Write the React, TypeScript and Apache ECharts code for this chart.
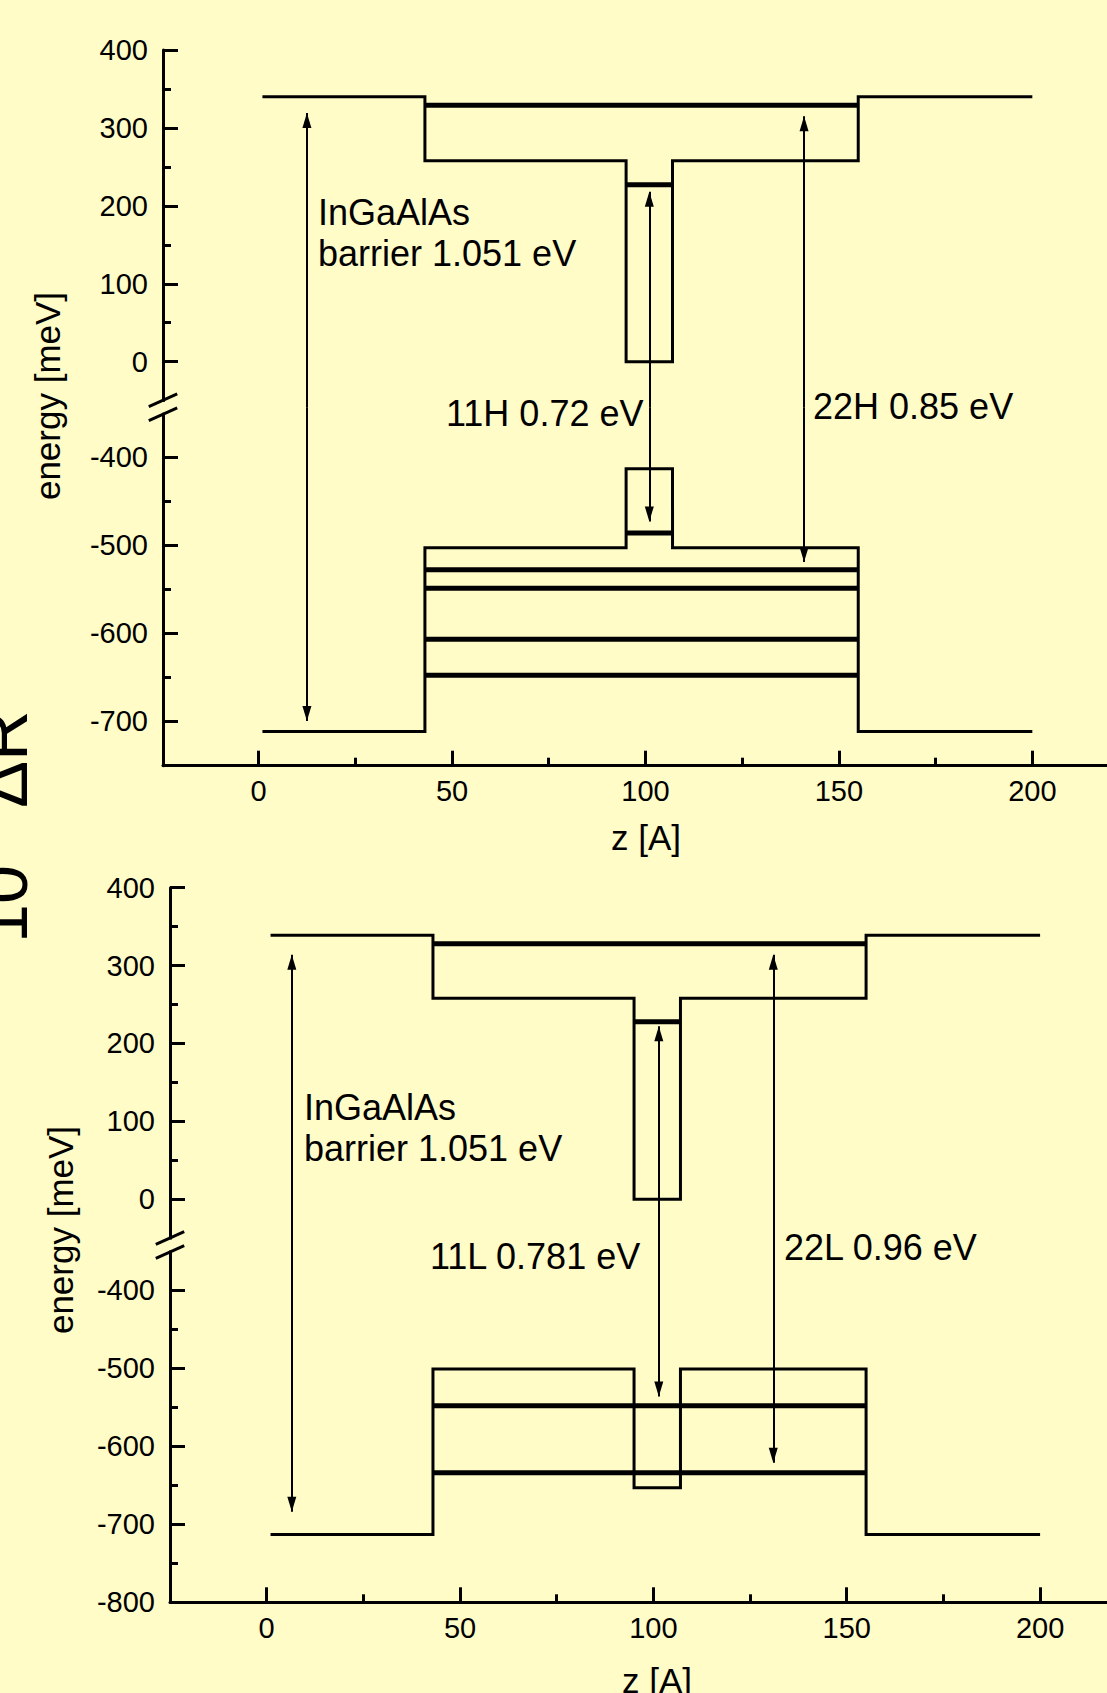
import React, { useEffect, useRef } from 'react';
import * as echarts from 'echarts';

const PAGE_W = 1107;
const PAGE_H = 1693;
const BG = '#FFFCC8';
const FONT = '"Liberation Sans", Arial, Helvetica, sans-serif';

// ---- axis ticks ----
const xMajorTicks = [0, 50, 100, 150, 200];
const xMinorTicks = [25, 75, 125, 175];
const yUpperMajorTicks = [0, 100, 200, 300, 400];
const yUpperMinorTicks = [50, 150, 250, 350];
const yLowerMajorTicksH = [-700, -600, -500, -400];
const yLowerMinorTicksH = [-650, -550, -450];
const yLowerMajorTicksL = [-800, -700, -600, -500, -400];
const yLowerMinorTicksL = [-750, -650, -550, -450];

// ---- band profile positions (z, Angstrom) ----
const profileZ = [1, 43, 43, 95, 95, 107, 107, 155, 155, 200];

// ---- heavy-hole panel (top) ----
const cbEnergyH = [340, 340, 258, 258, 0, 0, 258, 258, 340, 340];
const vbEnergyH = [-712, -712, -503, -503, -413, -413, -503, -503, -712, -712];
const cbLevelEnergyH = [329, 227];
const cbLevelStartH = [43, 95];
const cbLevelEndH = [155, 107];
const vbLevelEnergyH = [-486, -528, -549, -607, -648];
const vbLevelStartH = [95, 43, 43, 43, 43];
const vbLevelEndH = [107, 155, 155, 155, 155];
const arrowZH = [12.5, 101, 141];
const arrowTopH = [319, 218, 315];
const arrowBottomH = [-700, -473, -519];
const labelsH = ['InGaAlAs', 'barrier 1.051 eV', '11H 0.72 eV', '22H 0.85 eV'];

// ---- light-hole panel (bottom) ----
const cbEnergyL = [339, 339, 258, 258, 0, 0, 258, 258, 339, 339];
const vbEnergyL = [-713, -713, -501, -501, -653, -653, -501, -501, -713, -713];
const cbLevelEnergyL = [328, 228];
const cbLevelStartL = [43, 95];
const cbLevelEndL = [155, 107];
const vbLevelEnergyL = [-548, -634];
const vbLevelStartL = [43, 43];
const vbLevelEndL = [155, 155];
const arrowZL = [6.5, 101.4, 131];
const arrowTopL = [314, 222, 314];
const arrowBottomL = [-684, -536, -621];
const labelsL = ['InGaAlAs', 'barrier 1.051 eV', '11L 0.781 eV', '22L 0.96 eV'];

// ---- axis ranges ----
const xRangeH = [-24.7, 219.3];
const yUpperRangeH = [-58.5, 400];
const yLowerRangeH = [-750.9, -343.1];
const xRangeL = [-25, 217.3];
const yUpperRangeL = [-58.7, 400];
const yLowerRangeL = [-800, -341.9];

// ---- texts ----
const yTitle = 'energy [meV]';
const xTitle = 'z [A]';
const sideTexts = ['10', 'ΔR'];

// ---- layout (pixels) ----
const layoutH = { left: 163, top: 50, breakY: 407.3, bottom: 765.7 };
const layoutL = { left: 170, top: 887.7, breakY: 1245, bottom: 1602.3 };
const labelPosH = [[318, 212.5], [318, 253.5], [446, 413], [813, 406.5]];
const labelPosL = [[304, 1107.5], [304, 1148.5], [430, 1256.5], [784, 1247.5]];
const yTitlePos = [[47, 396], [60, 1230]];
const xTitlePos = [[646, 837], [657, 1680]];
const sideTextPos = [[3, 904], [3, 759]];

function pairs(zs: number[], es: number[]) {
  return zs.map((z, i) => [z, es[i]]);
}

function buildOption() {
  const grid: any[] = [];
  const xAxis: any[] = [];
  const yAxis: any[] = [];
  const series: any[] = [];

  const axisLineStyle = { color: '#000', width: 3 };
  const labelStyle = { color: '#000', fontSize: 29, fontFamily: FONT };

  function addGrid(left: number, top: number, height: number, xr: number[], yr: number[], showX: boolean, yMaj: number[], yMin: number[]) {
    const gi = grid.length;
    grid.push({ left, top, width: PAGE_W - left, height, containLabel: false, outerBoundsMode: 'none', show: false });
    const xi = xAxis.length;
    xAxis.push({
      type: 'value', gridIndex: gi, position: 'bottom', min: xr[0], max: xr[1], show: showX,
      axisLine: { show: true, onZero: false, lineStyle: axisLineStyle },
      axisTick: { show: true, inside: true, length: 15, lineStyle: { color: '#000', width: 3 }, customValues: xMajorTicks },
      axisLabel: { show: true, margin: 11, customValues: xMajorTicks, ...labelStyle },
      splitLine: { show: false }, minorTick: { show: false }, minorSplitLine: { show: false },
    });
    if (showX) {
      xAxis.push({
        type: 'value', gridIndex: gi, position: 'bottom', min: xr[0], max: xr[1],
        axisLine: { show: false, onZero: false },
        axisTick: { show: true, inside: true, length: 8, lineStyle: { color: '#000', width: 3 }, customValues: xMinorTicks },
        axisLabel: { show: false }, splitLine: { show: false },
      });
    }
    const yi = yAxis.length;
    yAxis.push({
      type: 'value', gridIndex: gi, position: 'left', min: yr[0], max: yr[1],
      axisLine: { show: true, onZero: false, lineStyle: axisLineStyle },
      axisTick: { show: true, inside: true, length: 15, lineStyle: { color: '#000', width: 3 }, customValues: yMaj },
      axisLabel: { show: true, margin: 15, customValues: yMaj, ...labelStyle },
      splitLine: { show: false },
    });
    yAxis.push({
      type: 'value', gridIndex: gi, position: 'left', min: yr[0], max: yr[1],
      axisLine: { show: false, onZero: false },
      axisTick: { show: true, inside: true, length: 8, lineStyle: { color: '#000', width: 3 }, customValues: yMin },
      axisLabel: { show: false }, splitLine: { show: false },
    });
    return { xi, yi };
  }

  function lineSeries(xi: number, yi: number, data: any[], width: number, extra: any = {}) {
    return {
      type: 'line', xAxisIndex: xi, yAxisIndex: yi, data, symbol: 'none', silent: true, animation: false,
      lineStyle: { color: '#000', width, join: 'miter', cap: 'butt' }, itemStyle: { color: '#000' },
      emphasis: { disabled: true }, z: 3, ...extra,
    };
  }

  const head = { symbol: 'triangle', symbolSize: [9, 15], symbolOffset: [0, '50%'] };
  function markLines(segs: any[]) {
    return {
      silent: true, animation: false, symbol: ['none', 'none'], label: { show: false },
      emphasis: { disabled: true }, lineStyle: { color: '#000', width: 2, type: 'solid', opacity: 1 },
      data: segs,
    };
  }

  function panel(layout: any, xr: number[], yUp: number[], yLo: number[], yLoMaj: number[], yLoMin: number[],
    cbE: number[], vbE: number[],
    cbLvE: number[], cbLvS: number[], cbLvT: number[],
    vbLvE: number[], vbLvS: number[], vbLvT: number[],
    aZ: number[], aTop: number[], aBot: number[]) {
    const up = addGrid(layout.left, layout.top, layout.breakY - layout.top, xr, yUp, false, yUpperMajorTicks, yUpperMinorTicks);
    const lo = addGrid(layout.left, layout.breakY, layout.bottom - layout.breakY, xr, yLo, true, yLoMaj, yLoMin);
    series.push(lineSeries(up.xi, up.yi, pairs(profileZ, cbE), 3, {
      markLine: markLines(aZ.map((z, i) => [
        { coord: [z, aTop[i]], ...head },
        { coord: [z, yUp[0]], symbol: 'none' },
      ])),
    }));
    cbLvE.forEach((e, i) => series.push(lineSeries(up.xi, up.yi, [[cbLvS[i], e], [cbLvT[i], e]], 5)));
    series.push(lineSeries(lo.xi, lo.yi, pairs(profileZ, vbE), 3, {
      markLine: markLines(aZ.map((z, i) => [
        { coord: [z, yLo[1]], symbol: 'none' },
        { coord: [z, aBot[i]], ...head },
      ])),
    }));
    vbLvE.forEach((e, i) => series.push(lineSeries(lo.xi, lo.yi, [[vbLvS[i], e], [vbLvT[i], e]], 5)));
  }

  panel(layoutH, xRangeH, yUpperRangeH, yLowerRangeH, yLowerMajorTicksH, yLowerMinorTicksH,
    cbEnergyH, vbEnergyH, cbLevelEnergyH, cbLevelStartH, cbLevelEndH,
    vbLevelEnergyH, vbLevelStartH, vbLevelEndH, arrowZH, arrowTopH, arrowBottomH);
  panel(layoutL, xRangeL, yUpperRangeL, yLowerRangeL, yLowerMajorTicksL, yLowerMinorTicksL,
    cbEnergyL, vbEnergyL, cbLevelEnergyL, cbLevelStartL, cbLevelEndL,
    vbLevelEnergyL, vbLevelStartL, vbLevelEndL, arrowZL, arrowTopL, arrowBottomL);

  const graphic: any[] = [];
  const txt = (text: string, x: number, y: number, fontSize: number, align: string, rotation = 0) => ({
    type: 'text', x, y, rotation, z: 50, silent: true,
    style: { text, fontSize, fontFamily: FONT, fill: '#000', align, verticalAlign: 'middle' },
  });

  [layoutH, layoutL].forEach((lay) => {
    graphic.push({ type: 'rect', z: 49, silent: true, shape: { x: lay.left - 3, y: lay.breakY - 5.5, width: 6, height: 11 }, style: { fill: BG } });
    [-7, 7].forEach((d) => {
      const c = lay.breakY + d;
      graphic.push({ type: 'line', z: 50, silent: true, shape: { x1: lay.left - 14.2, y1: c + 6.35, x2: lay.left + 14.2, y2: c - 6.35 }, style: { stroke: '#000', lineWidth: 3 } });
    });
  });

  labelsH.forEach((t, i) => graphic.push(txt(t, labelPosH[i][0], labelPosH[i][1], 36, 'left')));
  labelsL.forEach((t, i) => graphic.push(txt(t, labelPosL[i][0], labelPosL[i][1], 36, 'left')));
  yTitlePos.forEach((p) => graphic.push(txt(yTitle, p[0], p[1], 35, 'center', Math.PI / 2)));
  xTitlePos.forEach((p) => graphic.push(txt(xTitle, p[0], p[1], 35, 'center')));
  sideTexts.forEach((t, i) => graphic.push(txt(t, sideTextPos[i][0], sideTextPos[i][1], 70, 'center', Math.PI / 2)));

  return {
    animation: false,
    backgroundColor: BG,
    textStyle: { fontFamily: FONT, color: '#000' },
    grid, xAxis, yAxis, series, graphic,
  };
}

export default function App() {
  const ref = useRef<HTMLDivElement>(null);
  useEffect(() => {
    if (!ref.current) return;
    const chart = echarts.init(ref.current, undefined, { renderer: 'svg' });
    chart.setOption(buildOption() as any);
    return () => chart.dispose();
  }, []);
  return (
    <div
      ref={ref}
      style={{ position: 'absolute', left: 0, top: 0, width: PAGE_W, height: PAGE_H, background: BG }}
    />
  );
}
